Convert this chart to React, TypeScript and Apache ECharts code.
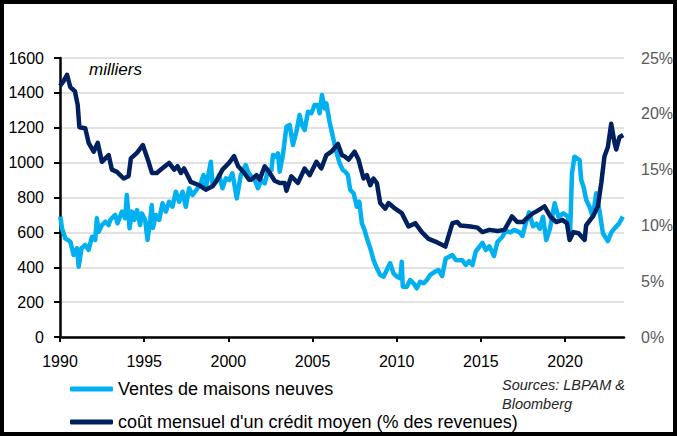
import React, { useEffect, useRef } from "react";
import * as echarts from "echarts";

const salesName = "Ventes de maisons neuves";
const costName = "coût mensuel d'un crédit moyen (% des revenues)";

const xTickYears = [1990, 1995, 2000, 2005, 2010, 2015, 2020];

// Ventes de maisons neuves (milliers) — [année, valeur]
const salesData: [number, number][] = [
  [1990.02, 690], [1990.12, 623], [1990.31, 566], [1990.61, 547], [1990.81, 470], [1991.01, 509],
  [1991.11, 403], [1991.28, 509], [1991.5, 528], [1991.7, 499], [1991.9, 575], [1992.09, 556],
  [1992.19, 681], [1992.3, 604], [1992.49, 642], [1992.69, 661], [1992.89, 642], [1992.98, 671],
  [1993.28, 700], [1993.42, 652], [1993.68, 719], [1993.87, 681], [1993.97, 814], [1994.13, 623],
  [1994.27, 719], [1994.41, 671], [1994.57, 728], [1994.76, 642], [1994.86, 709], [1995.06, 671],
  [1995.2, 556], [1995.36, 671], [1995.45, 757], [1995.52, 625], [1995.69, 700], [1995.89, 671],
  [1996.09, 767], [1996.29, 719], [1996.48, 776], [1996.68, 747], [1996.88, 833], [1997.08, 776],
  [1997.28, 833], [1997.47, 747], [1997.67, 853], [1997.87, 814], [1998.17, 853], [1998.36, 881],
  [1998.52, 929], [1998.66, 853], [1998.96, 1005], [1999.06, 872], [1999.25, 891], [1999.45, 929],
  [1999.65, 853], [1999.85, 910], [2000.04, 900], [2000.24, 939], [2000.5, 795], [2000.74, 929],
  [2001.03, 986], [2001.17, 948], [2001.37, 919], [2001.57, 900], [2001.76, 853], [2001.96, 900],
  [2002.16, 881], [2002.36, 958], [2002.56, 958], [2002.65, 1044], [2002.85, 1034], [2002.95, 1053],
  [2003.05, 948], [2003.24, 1044], [2003.45, 1206], [2003.64, 1216], [2003.84, 1101], [2004.04, 1177],
  [2004.23, 1273], [2004.37, 1216], [2004.53, 1187], [2004.73, 1292], [2004.93, 1283], [2005.12, 1330],
  [2005.32, 1330], [2005.42, 1283], [2005.56, 1388], [2005.72, 1311], [2005.82, 1340], [2006.01, 1235],
  [2006.21, 1149], [2006.41, 1063], [2006.61, 996], [2006.8, 958], [2006.94, 948], [2007.1, 929],
  [2007.24, 843], [2007.44, 824], [2007.63, 747], [2007.78, 776], [2007.93, 652], [2008.09, 614],
  [2008.23, 566], [2008.43, 509], [2008.62, 442], [2008.82, 394], [2009.02, 356], [2009.22, 346],
  [2009.41, 384], [2009.61, 423], [2009.81, 365], [2010.01, 346], [2010.21, 337], [2010.3, 432],
  [2010.36, 288], [2010.6, 288], [2010.8, 327], [2011.0, 308], [2011.19, 279], [2011.39, 317],
  [2011.59, 308], [2011.79, 327], [2011.99, 356], [2012.28, 375], [2012.48, 384], [2012.7, 350],
  [2012.91, 450], [2013.31, 470], [2013.51, 442], [2013.9, 440], [2014.1, 413], [2014.3, 435],
  [2014.5, 413], [2014.69, 489], [2015.09, 540], [2015.29, 499], [2015.5, 520], [2015.78, 465],
  [2015.98, 545], [2016.28, 575], [2016.47, 610], [2016.75, 600], [2016.97, 614], [2017.3, 600],
  [2017.46, 580], [2017.66, 650], [2017.86, 715], [2018.1, 635], [2018.3, 650], [2018.5, 620],
  [2018.69, 690], [2018.88, 556], [2019.1, 620], [2019.38, 767], [2019.6, 690], [2019.9, 709],
  [2020.17, 690], [2020.3, 600], [2020.41, 939], [2020.56, 1034], [2020.86, 1015], [2020.96, 900],
  [2021.1, 860], [2021.26, 786], [2021.45, 747], [2021.65, 690], [2021.85, 824], [2022.05, 720],
  [2022.25, 595], [2022.54, 550], [2022.75, 600], [2022.94, 623], [2023.2, 650], [2023.43, 690],
];

// Coût mensuel d'un crédit moyen (% des revenus) — [année, %]
const costData: [number, number][] = [
  [1990.0, 22.5], [1990.2, 22.9], [1990.42, 23.5], [1990.61, 22.4], [1990.89, 22.0], [1991.05, 20.8],
  [1991.15, 18.8], [1991.5, 18.7], [1991.7, 17.4], [1992.0, 16.6], [1992.24, 17.4], [1992.49, 15.7],
  [1992.89, 16.3], [1993.08, 15.0], [1993.38, 14.8], [1993.78, 14.2], [1994.07, 14.4], [1994.21, 16.0],
  [1994.57, 16.5], [1994.92, 17.2], [1995.26, 15.7], [1995.46, 14.7], [1995.75, 14.7], [1995.99, 15.0],
  [1996.48, 15.6], [1996.78, 15.0], [1996.98, 15.3], [1997.18, 14.7], [1997.37, 15.1], [1997.77, 13.9],
  [1998.26, 13.6], [1998.66, 13.2], [1999.06, 13.5], [1999.35, 14.1], [1999.65, 15.0], [2000.04, 15.6],
  [2000.34, 16.2], [2000.58, 15.3], [2000.95, 14.7], [2001.23, 14.1], [2001.37, 14.1], [2001.67, 14.5],
  [2001.86, 14.1], [2002.16, 15.3], [2002.46, 14.7], [2002.75, 14.0], [2003.05, 13.8], [2003.35, 13.8],
  [2003.45, 13.1], [2003.74, 14.4], [2004.13, 13.8], [2004.53, 15.1], [2004.83, 14.5], [2005.23, 15.7],
  [2005.52, 15.1], [2005.82, 16.3], [2006.12, 16.6], [2006.51, 17.3], [2006.74, 16.3], [2006.9, 16.2],
  [2007.14, 15.9], [2007.5, 16.6], [2007.73, 15.9], [2008.03, 14.2], [2008.23, 14.5], [2008.43, 13.6],
  [2008.62, 14.2], [2008.82, 13.8], [2009.02, 12.0], [2009.32, 11.5], [2009.51, 12.0], [2009.91, 11.5],
  [2010.3, 11.1], [2010.7, 9.9], [2011.1, 10.2], [2011.49, 9.4], [2011.89, 8.8], [2012.38, 8.5],
  [2012.89, 8.1], [2013.31, 10.2], [2013.6, 10.3], [2013.78, 10.0], [2014.38, 9.9], [2014.8, 9.8],
  [2015.09, 9.4], [2015.5, 9.6], [2016.0, 9.5], [2016.4, 9.6], [2016.85, 10.8], [2017.16, 10.3],
  [2017.5, 10.3], [2017.7, 10.6], [2018.1, 11.1], [2018.35, 11.3], [2018.78, 11.7], [2019.12, 10.8],
  [2019.48, 10.3], [2019.83, 10.5], [2020.11, 10.2], [2020.27, 8.7], [2020.5, 9.4], [2020.8, 9.3],
  [2021.16, 8.7], [2021.25, 10.0], [2021.65, 10.8], [2021.95, 11.7], [2022.15, 13.8], [2022.34, 16.2],
  [2022.54, 17.0], [2022.74, 19.1], [2022.94, 17.4], [2023.04, 16.8], [2023.23, 17.9], [2023.45, 18.1],
];

const FONT = "'Liberation Sans', Arial, sans-serif";

const legendBase = {
  orient: "horizontal",
  left: 65,
  itemWidth: 43,
  itemHeight: 5,
  icon: "roundRect",
  textStyle: { color: "#000", fontSize: 18, fontFamily: FONT },
};

export default function App() {
  const ref = useRef<HTMLDivElement>(null);

  useEffect(() => {
    if (!ref.current) return;
    const chart = echarts.init(ref.current, undefined, { renderer: "svg" });
    chart.setOption({
      animation: false,
      backgroundColor: "#ffffff",
      textStyle: { fontFamily: FONT },
      grid: { left: 60, right: 53, top: 58, bottom: 99, containLabel: false },
      xAxis: {
        type: "value",
        min: 1990,
        max: 2023.5,
        interval: 5,
        axisLine: { show: true, lineStyle: { color: "#000", width: 2.5 } },
        axisTick: { show: true, length: 5, lineStyle: { color: "#000", width: 2 }, customValues: xTickYears },
        axisLabel: {
          customValues: xTickYears,
          color: "#000",
          fontSize: 16,
          margin: 16,
          fontFamily: FONT,
          formatter: (v: number) => String(v),
        },
        splitLine: { show: false },
      },
      yAxis: [
        {
          type: "value",
          min: 0,
          max: 1600,
          interval: 200,
          axisLine: { show: true, lineStyle: { color: "#000", width: 2.5 } },
          axisTick: { show: true, length: 6, lineStyle: { color: "#000", width: 2 } },
          axisLabel: {
            color: "#000",
            fontSize: 16,
            margin: 16,
            fontFamily: FONT,
            formatter: (v: number) => String(v),
          },
          splitLine: { show: true, lineStyle: { color: "#D9D9D9", width: 1.5 } },
        },
        {
          type: "value",
          min: 0,
          max: 25,
          interval: 5,
          position: "right",
          axisLine: { show: false },
          axisTick: { show: false },
          axisLabel: { color: "#595959", fontSize: 16, margin: 17, fontFamily: FONT, formatter: "{value}%" },
          splitLine: { show: false },
        },
      ],
      legend: [
        { ...legendBase, top: 375, data: [salesName] },
        { ...legendBase, top: 408, data: [costName] },
      ],
      series: [
        {
          name: salesName,
          type: "line",
          yAxisIndex: 0,
          data: salesData,
          showSymbol: false,
          symbol: "none",
          lineStyle: { color: "#00B0F0", width: 4.5, join: "round" },
          itemStyle: { color: "#00B0F0" },
        },
        {
          name: costName,
          type: "line",
          yAxisIndex: 1,
          data: costData,
          showSymbol: false,
          symbol: "none",
          lineStyle: { color: "#002060", width: 4.5, join: "round" },
          itemStyle: { color: "#002060" },
        },
      ],
      graphic: [
        {
          type: "text",
          left: 89,
          top: 61,
          style: { text: "milliers", fill: "#000", font: `italic 17px ${FONT}` },
        },
        {
          type: "text",
          left: 502,
          top: 375,
          style: {
            text: "Sources: LBPAM &\nBloomberg",
            fill: "#262626",
            font: `italic 14.5px ${FONT}`,
            lineHeight: 19,
          },
        },
        {
          type: "rect",
          shape: { x: 2, y: 2, width: 673, height: 432 },
          style: { fill: "none", stroke: "#000", lineWidth: 4 },
          silent: true,
        },
      ],
    });
    return () => chart.dispose();
  }, []);

  return (
    <div
      ref={ref}
      style={{ position: "fixed", left: 0, top: 0, width: 677, height: 436 }}
    />
  );
}
